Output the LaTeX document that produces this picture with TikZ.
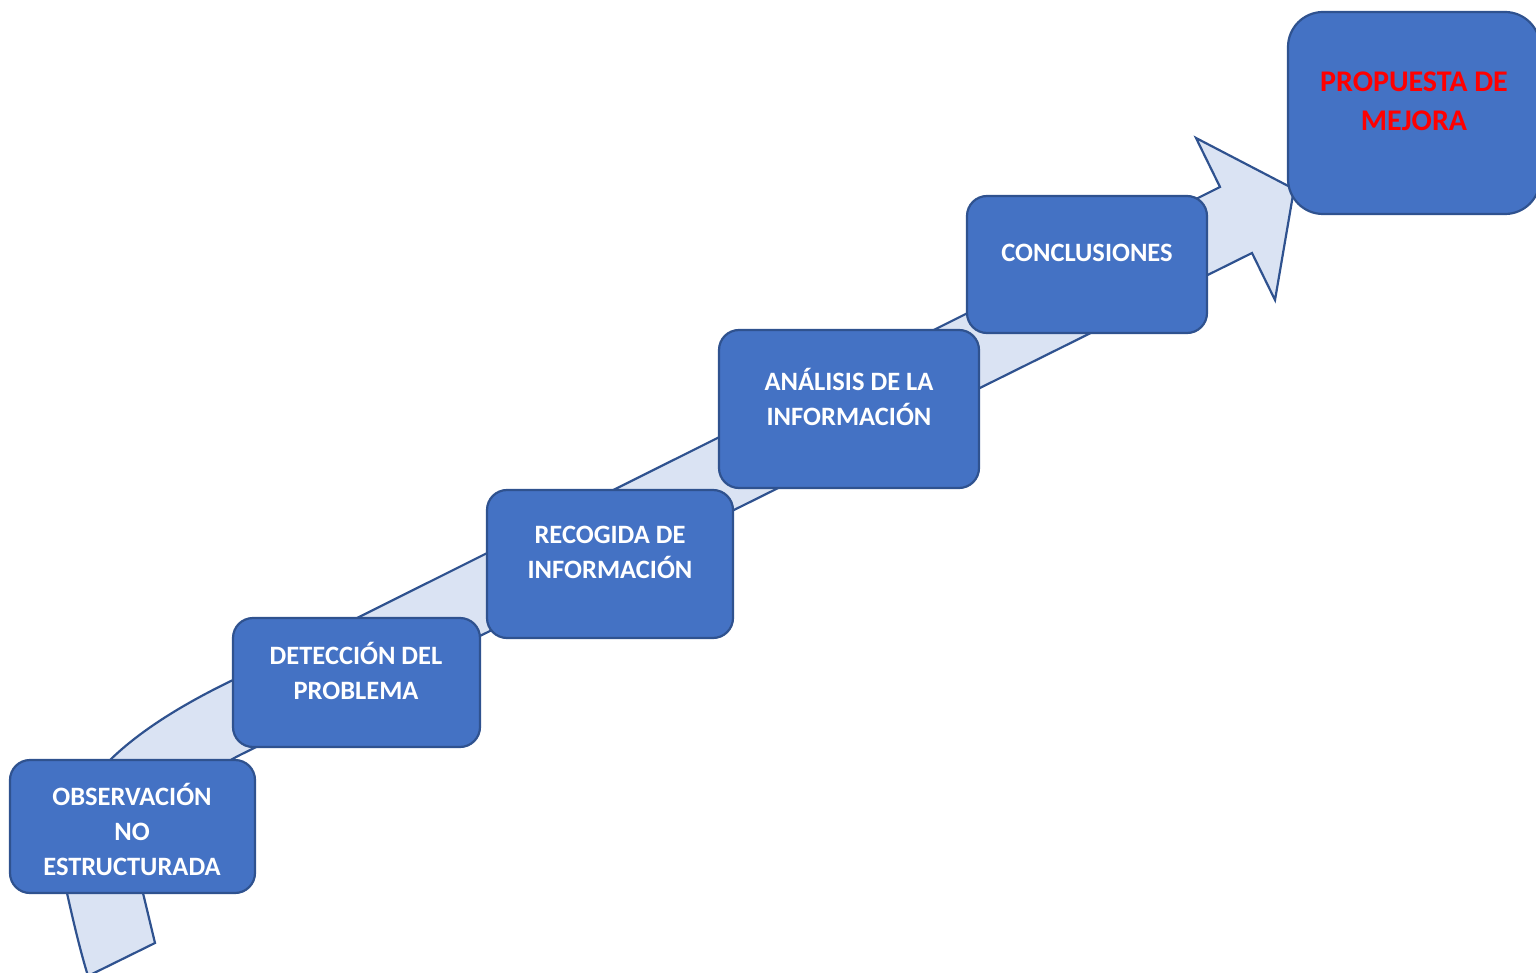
\documentclass[tikz,border=0pt]{standalone}
\usepackage{fontspec}
\setmainfont{Carlito}
\definecolor{boxfill}{HTML}{4472C4}
\definecolor{boxline}{HTML}{2F528F}
\definecolor{arrowfill}{HTML}{DAE3F3}
\definecolor{propred}{HTML}{FF0000}
\begin{document}
\begin{tikzpicture}[x=1pt,y=-1pt,
  stepbox/.style={draw=boxline, fill=boxfill, line width=2.2pt, rounded corners=20pt, inner sep=0pt},
  lbl/.style={text=white, font=\fontsize{26.5}{35}\selectfont\bfseries, align=center, inner sep=0pt},
  bigarrow/.style={draw=boxline, fill=arrowfill, line width=2.2pt, line join=miter}]
\useasboundingbox (0,0) rectangle (1536,973);
% big curved arrow
\draw[bigarrow] (155,943) -- (143,893)
  .. controls (131,845) and (190,780) .. (240,755)
  -- (1252,253) -- (1275,300) -- (1294,189) -- (1196,138) -- (1220,187)
  -- (233,680)
  .. controls (125,732) and (40,800) .. (67,893)
  .. controls (73,920) and (80,950) .. (88,976) -- cycle;
% boxes
\node[stepbox, minimum width=245, minimum height=133] (obs) at (132.5,826.5) {};
\node[stepbox, minimum width=247, minimum height=129] (det) at (356.5,682.5) {};
\node[stepbox, minimum width=246, minimum height=148] (rec) at (610,564) {};
\node[stepbox, minimum width=260, minimum height=158] (ana) at (849,409) {};
\node[stepbox, minimum width=240, minimum height=137] (con) at (1087,264.5) {};
\node[stepbox, rounded corners=35pt, minimum width=252, minimum height=202] (pro) at (1414,113) {};
% labels
\node[lbl] (obsT) at (132,829) {OBSERVACIÓN\\NO\\ESTRUCTURADA};
\node[lbl] (detT) at (356,670.5) {DETECCIÓN DEL\\PROBLEMA};
\node[lbl] (recT) at (610,552.5) {RECOGIDA DE\\INFORMACIÓN};
\node[lbl] (anaT) at (849,396.5) {ANÁLISIS DE LA\\INFORMACIÓN};
\node[lbl] (conT) at (1087,253) {CONCLUSIONES};
\node[lbl, text=propred, font=\fontsize{30}{39}\selectfont\bfseries] (proT) at (1414,101) {PROPUESTA DE\\MEJORA};
\end{tikzpicture}
\end{document}
